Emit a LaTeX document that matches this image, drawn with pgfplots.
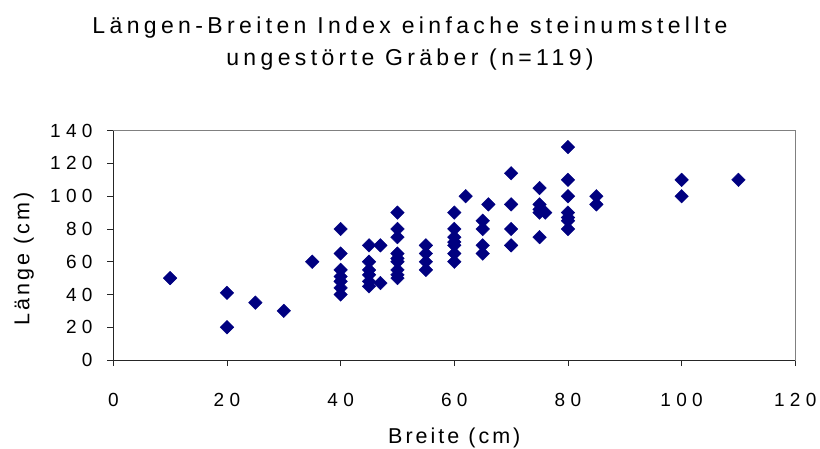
\documentclass[border=0pt]{standalone}
\usepackage{fontspec}
\setmainfont{Liberation Sans}
\usepackage{pgfplots}
\pgfplotsset{compat=1.18}
\definecolor{navy}{RGB}{0,0,128}
\definecolor{framegray}{RGB}{128,128,128}
\begin{document}
\begin{tikzpicture}[x=1pt,y=1pt]
\useasboundingbox (0,0) rectangle (820,448);
\begin{axis}[
  at={(113.3pt,88pt)}, anchor=south west,
  scale only axis, width=682pt, height=229.3pt,
  xmin=0, xmax=120, ymin=0, ymax=140,
  xtick={0,20,...,120}, ytick={0,20,...,140},
  axis line style={framegray, line width=0.9pt},
  tick align=outside, major tick length=6pt,
  tick style={black!85, line width=0.8pt},
  xtick pos=bottom, ytick pos=left,
  /pgf/number format/assume math mode=true,
  ticklabel style={font=\fontsize{19}{21}\selectfont\addfontfeature{LetterSpace=28}},
  xticklabel style={anchor=base, yshift=-40pt},
  yticklabel style={anchor=east, inner sep=0pt, xshift=-14.6pt},
  label style={font=\fontsize{21.5}{24}\selectfont\addfontfeature{LetterSpace=14}},
  xlabel={Breite (cm)},
  xlabel style={at={(axis description cs:0.5,0)}, anchor=base, yshift=-83.3pt},
  ylabel={Länge (cm)},
  ylabel style={at={(axis description cs:-0.1229,0.4405)}, anchor=base},
  clip=false,
]
\draw[black!85, line width=0.9pt] (rel axis cs:0,1) -- (rel axis cs:0,0) -- (rel axis cs:1,0);
\addplot[only marks, mark=square*, mark size=4.8pt, mark options={rotate=45, fill=navy, draw=navy}]
coordinates {
(10,50)
(20,41) (20,20)
(25,35)
(30,30)
(35,60)
(40,80) (40,65) (40,55) (40,51) (40,48) (40,44) (40,40)
(45,70) (45,60) (45,55) (45,52) (45,48) (45,45)
(47,70) (47,47)
(50,90) (50,80) (50,75) (50,65) (50,62) (50,60) (50,55) (50,52) (50,50)
(55,70) (55,65) (55,60) (55,55)
(60,90) (60,80) (60,75) (60,72) (60,70) (60,65) (60,60)
(62,100)
(65,85) (65,80) (65,70) (65,65)
(66,95)
(70,114) (70,95) (70,80) (70,70)
(75,105) (75,95) (75,92) (75,90) (75,75)
(76,90)
(80,130) (80,110) (80,100) (80,90) (80,87) (80,85) (80,80)
(85,100) (85,95)
(100,110) (100,100)
(110,110)
};
\end{axis}
\node[anchor=base, font=\fontsize{23}{27}\selectfont\addfontfeature{LetterSpace=19}] at (410,414.7) {Längen-Breiten Index einfache steinumstellte};
\node[anchor=base, font=\fontsize{23}{27}\selectfont\addfontfeature{LetterSpace=19}] at (410,382) {ungestörte Gräber (n=119)};
\end{tikzpicture}
\end{document}
